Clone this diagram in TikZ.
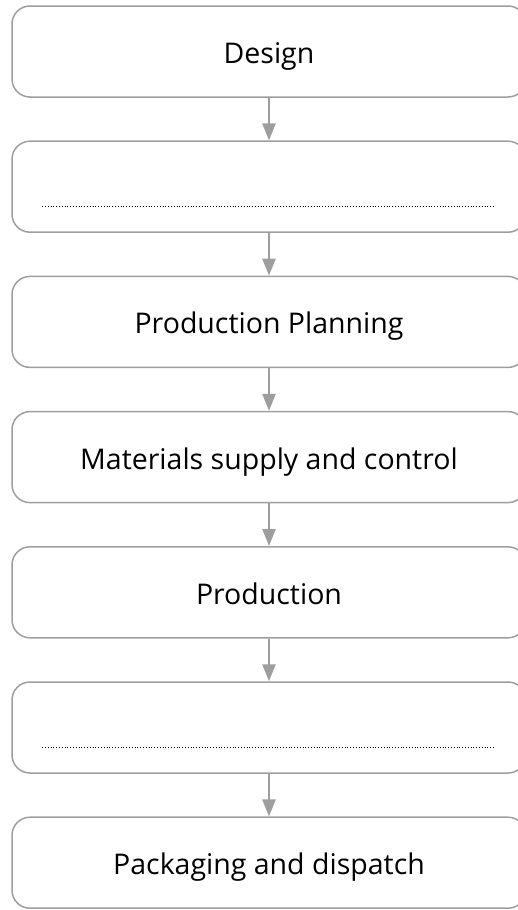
\documentclass[tikz,border=0pt]{standalone}
\usepackage{fontspec}
\setmainfont{Open Sans}
\usetikzlibrary{arrows.meta}
\definecolor{linegray}{RGB}{158,158,158}
\tikzset{
    stepbox/.style={draw=linegray, line width=1.5pt, rounded corners=18pt,
        minimum width=514pt, minimum height=91pt, inner sep=0pt,
        font=\fontsize{28.5}{33}\selectfont, text height=24pt, text depth=0pt},
    flow/.style={draw=linegray, line width=2.5pt, -{Triangle[width=13pt,length=17pt]}},
    blank/.style={line width=0.8pt, dash pattern=on 0.8pt off 2pt}
}
\begin{document}
\begin{tikzpicture}[x=1pt,y=-1pt]
    \useasboundingbox (0,0) rectangle (517,910);
    % Steps
    \foreach \name/\i in {Design/1,{}/2,Production Planning/3,Materials supply and control/4,Production/5,{}/6,Packaging and dispatch/7} {
        \node[stepbox] (Step-\i) at (269,{51.5+135.2*(\i-1)}) {\name};
    }
    % Blank lines
    \foreach \i in {2,6} {
        \draw[blank] ([xshift=31pt,yshift=-20pt]Step-\i.west) -- ([xshift=-33pt,yshift=-20pt]Step-\i.east);
    }
    % Arrows
    \foreach \i [evaluate=\i as \j using int(\i+1)] in {1,...,6} {
        \draw[flow] (Step-\i) -- (Step-\j);
    }
\end{tikzpicture}
\end{document}
